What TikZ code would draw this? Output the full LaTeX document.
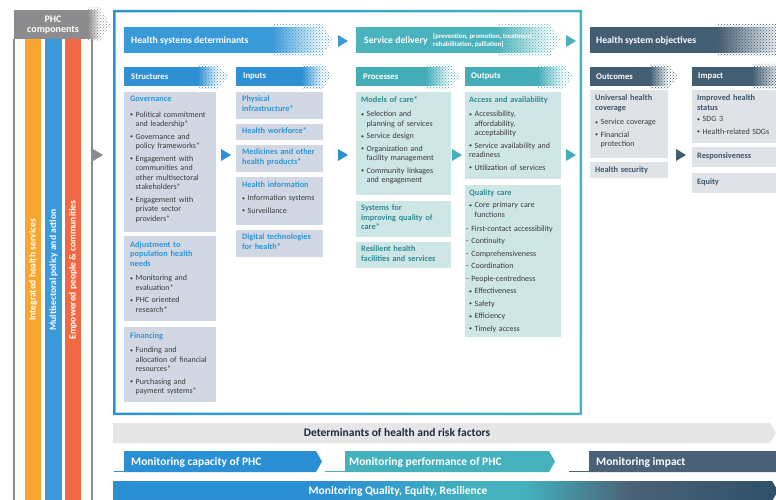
\documentclass[tikz,border=0pt]{standalone}
\usepackage{fontspec}
\setmainfont{Carlito}
\usetikzlibrary{patterns}
\usetikzlibrary{fadings}

\definecolor{phcgray}{HTML}{8C8C8F}
\definecolor{phcorange}{HTML}{F8A631}
\definecolor{phcblue}{HTML}{3A9AD8}
\definecolor{phcred}{HTML}{EF6A43}
\definecolor{hsdblue}{HTML}{3A9AD8}
\definecolor{structblue}{HTML}{2E90D2}
\definecolor{sdteal}{HTML}{4BB3BD}
\definecolor{procteal}{HTML}{44AEB8}
\definecolor{hsoslate}{HTML}{435D72}
\definecolor{frameblue}{HTML}{2B93D5}
\definecolor{frameteal}{HTML}{48B3BE}
\definecolor{structfill}{HTML}{D1D8E4}
\definecolor{procfill}{HTML}{CFE6E6}
\definecolor{outfill}{HTML}{DFE2E6}
\definecolor{structhead}{HTML}{2F96D6}
\definecolor{prochead}{HTML}{2E8C93}
\definecolor{outhead}{HTML}{3D566B}
\definecolor{bodytxt}{HTML}{3A3A3A}
\definecolor{detgray}{HTML}{E6E6E6}
\definecolor{dettxt}{HTML}{1F2B38}
\definecolor{monblue}{HTML}{2A8FD3}
\definecolor{monteal}{HTML}{44B1BC}
\definecolor{monslate}{HTML}{4A6177}
\definecolor{qerdark}{HTML}{2E5169}

\pgfdeclarehorizontalshading{qershade}{100bp}{color(0bp)=(monblue); color(41bp)=(monblue); color(52bp)=(monteal); color(56bp)=(monteal); color(64bp)=(monslate); color(75bp)=(qerdark); color(100bp)=(qerdark)}

\newcommand{\bul}{\makebox[5.5pt][l]{\raisebox{.4pt}{\fontsize{6}{6}\selectfont\textbullet}}}
\newcommand{\ind}{\hspace*{5.5pt}}
\newcommand{\hd}[2]{{\color{#1}\bfseries\fontsize{8.3}{9.8}\selectfont #2}}

\begin{document}
\begin{tikzpicture}[x=1pt,y=-1pt,
  boxtxt/.style={anchor=north west,inner sep=0pt,text width=100pt,align=left,text=bodytxt,font=\fontsize{8}{9.5}\selectfont},
  bantxt/.style={anchor=west,inner sep=0pt,text=white,font=\bfseries\fontsize{9.7}{11}\selectfont},
  subtxt/.style={anchor=west,inner sep=0pt,text=white,font=\bfseries\fontsize{8.7}{10}\selectfont},
  bartxt/.style={rotate=90,inner sep=0pt,text=white,font=\bfseries\fontsize{9.5}{11}\selectfont},
  bigtxt/.style={inner sep=0pt,font=\bfseries\fontsize{11.5}{13}\selectfont}]
  \useasboundingbox (0,0) rectangle (776,500);
  \fill[white] (0,0) rectangle (776,500);

  % PHC components
  \fill[phcorange] (25,39) rectangle (41,500);
  \fill[phcblue] (45,39) rectangle (62,500);
  \fill[phcred] (65,39) rectangle (81,500);
  \draw[phcgray, line width=2pt] (14,39) -- (14,500);
  \draw[phcgray, line width=2pt] (92,39) -- (92,500);

  % banners
  \foreach \xa/\xf/\xb/\ya/\yb/\col in {14/88/110/10/39/phcgray, 124/272/332/27/53/hsdblue,
      356/498/560/27/53/sdteal, 590/718/790/27/53/hsoslate, 124/198/228/67/86/structblue,
      236/302/332/67/86/structblue, 356/426/460/67/86/procteal, 465/538/573/67/86/procteal,
      590/650/678/67/86/hsoslate, 692/752/790/67/86/hsoslate}{
    \fill[pattern=crosshatch dots, pattern color=\col] (\xf,\ya-3) -- (\xb-10,\ya-3) -- (\xb,{(\ya+\yb)/2}) -- (\xb-10,\yb+3) -- (\xf,\yb+3) -- cycle;
    \fill[\col] (\xa,\ya) rectangle (\xf,\yb);
    \fill[\col, path fading=east] (\xf-.3,\ya) rectangle (\xb-10,\yb);
  }

  \node[inner sep=0pt, align=center, text=white, font=\bfseries\fontsize{10}{10.5}\selectfont] (phc) at (53,25) {PHC\\components};
  \node[bartxt] (igs) at (33,270) {Integrated health services};
  \node[bartxt] (mpa) at (53.5,270) {Multisectoral policy and action};
  \node[bartxt] (epc) at (73,270) {Empowered people \& communities};

  % frame round health systems and service delivery
  \shade[left color=frameblue, right color=frameteal, even odd rule] (113,10) rectangle (582,415) (115.5,12.5) rectangle (579.5,412.5);

  % arrow heads
  \foreach \tx/\ty/\col in {93/155/phcgray, 221/155/structblue, 338/155/structblue, 338/41/hsdblue,
      452/155/procteal, 566/155/procteal, 566/41/sdteal, 676/155/hsoslate}
    \fill[\col] (\tx,\ty-6) -- (\tx+10,\ty) -- (\tx,\ty+6) -- cycle;

  \node[bantxt] (hsd) at (131,41) {Health systems determinants};
  \node[bantxt] (sdel) at (364,41) {Service delivery};
  \node[anchor=west, inner sep=0pt, align=left, text=white, font=\bfseries\fontsize{6.8}{8}\selectfont] (sdbr) at (433,41) {[prevention, promotion, treatment,\\ rehabilitation, palliation]};
  \node[bantxt] (hso) at (596,41) {Health system objectives};
  \node[subtxt] (str) at (131,76.5) {Structures};
  \node[subtxt] (inp) at (243,76.5) {Inputs};
  \node[subtxt] (pro) at (363,76.5) {Processes};
  \node[subtxt] (outp) at (471,76.5) {Outputs};
  \node[subtxt] (outc) at (596,76.5) {Outcomes};
  \node[subtxt] (imp) at (698,76.5) {Impact};

  % structures
  \fill[structfill] (124,92) rectangle (216,232);
  \fill[structfill] (124,236) rectangle (216,321);
  \fill[structfill] (124,327) rectangle (216,402);
  \node[boxtxt] (gov) at (130,96) {\hd{structhead}{Governance}\\[6pt]
    \bul Political commitment\\ \ind and leadership*\\[3pt]
    \bul Governance and\\ \ind policy frameworks*\\[3pt]
    \bul Engagement with\\ \ind communities and\\ \ind other multisectoral\\ \ind stakeholders*\\[3pt]
    \bul Engagement with\\ \ind private sector\\ \ind providers*};
  \node[boxtxt] (adj) at (130,241) {\hd{structhead}{Adjustment to\\ population health\\ needs}\\[5pt]
    \bul Monitoring and\\ \ind evaluation*\\[3pt]
    \bul PHC oriented\\ \ind research*};
  \node[boxtxt] (fin) at (130,332) {\hd{structhead}{Financing}\\[5pt]
    \bul Funding and\\ \ind allocation of financial\\ \ind resources*\\[3pt]
    \bul Purchasing and\\ \ind payment systems*};

  % inputs
  \fill[structfill] (236,92) rectangle (323,119);
  \fill[structfill] (236,124) rectangle (323,140);
  \fill[structfill] (236,145) rectangle (323,172);
  \fill[structfill] (236,177) rectangle (323,225);
  \fill[structfill] (236,230) rectangle (323,257);
  \node[boxtxt] (phys) at (242,95.5) {\hd{structhead}{Physical\\ infrastructure*}};
  \node[boxtxt] (work) at (242,127.5) {\hd{structhead}{Health workforce*}};
  \node[boxtxt] (med) at (242,148.5) {\hd{structhead}{Medicines and other\\ health products*}};
  \node[boxtxt] (info) at (242,181) {\hd{structhead}{Health information}\\[4pt]
    \bul Information systems\\[3pt]
    \bul Surveillance};
  \node[boxtxt] (digi) at (242,233.5) {\hd{structhead}{Digital technologies\\ for health*}};

  % processes
  \fill[procfill] (356,92) rectangle (451,195);
  \fill[procfill] (356,201) rectangle (451,237);
  \fill[procfill] (356,242) rectangle (451,268);
  \node[boxtxt] (moc) at (361,96) {\hd{prochead}{Models of care*}\\[5pt]
    \bul Selection and\\ \ind planning of services\\[3pt]
    \bul Service design\\[3pt]
    \bul Organization and\\ \ind facility management\\[3pt]
    \bul Community linkages\\ \ind and engagement};
  \node[boxtxt] (siq) at (361,204.5) {\hd{prochead}{Systems for\\ improving quality of\\ care*}};
  \node[boxtxt] (res) at (361,245.5) {\hd{prochead}{Resilient health\\ facilities and services}};

  % outputs
  \fill[procfill] (465,92) rectangle (561,179);
  \fill[procfill] (465,185) rectangle (561,337);
  \node[boxtxt] (acc) at (469,96) {\hd{prochead}{Access and availability}\\[5pt]
    \bul Accessibility,\\ \ind affordability,\\ \ind acceptability\\[3pt]
    \bul Service availability and\\ readiness\\[3pt]
    \bul Utilization of services};
  \node[boxtxt] (qual) at (469,189.5) {\hd{prochead}{Quality care}\\[2.5pt]
    \bul Core primary care\\ \ind functions\\[4.5pt]
    \hspace*{-3pt}- First-contact accessibility\\[3pt]
    \hspace*{-3pt}- Continuity\\[3pt]
    \hspace*{-3pt}- Comprehensiveness\\[3pt]
    \hspace*{-3pt}- Coordination\\[3pt]
    \hspace*{-3pt}- People-centredness\\[3pt]
    \bul Effectiveness\\[3pt]
    \bul Safety\\[3pt]
    \bul Efficiency\\[3pt]
    \bul Timely access};

  % outcomes and impact
  \fill[outfill] (590,90) rectangle (668,158);
  \fill[outfill] (590,162) rectangle (668,178);
  \fill[outfill] (692,90) rectangle (776,143);
  \fill[outfill] (692,147) rectangle (776,167);
  \fill[outfill] (692,173) rectangle (776,193);
  \node[boxtxt] (uhc) at (595,94.5) {\hd{outhead}{Universal health\\ coverage}\\[5pt]
    \bul Service coverage\\[3pt]
    \bul Financial\\ \ind protection};
  \node[boxtxt] (hsec) at (595,166) {\hd{outhead}{Health security}};
  \node[boxtxt] (ihs) at (697,94.5) {\hd{outhead}{Improved health\\ status}\\[2pt]
    \bul SDG 3\\[3pt]
    \bul Health-related SDGs};
  \node[boxtxt] (resp) at (697,152) {\hd{outhead}{Responsiveness}};
  \node[boxtxt] (equ) at (697,178) {\hd{outhead}{Equity}};

  % monitoring bars
  \fill[detgray] (113,423) -- (770,423) -- (776,433) -- (770,443) -- (113,443) -- cycle;
  \node[bigtxt, text=dettxt] (det) at (397,433) {Determinants of health and risk factors};
  \foreach \xa/\xb/\xc/\col in {114/124/322/monblue, 325/345/555/monteal, 569/589/782/monslate}{
    \fill[\col] (\xb,451) -- (\xc-6,451) -- (\xc,461.5) -- (\xc-6,472) -- (\xb,472) -- cycle;
    \draw[\col, line width=1pt] (\xa,471.5) -- (\xb,471.5);
  }
  \node[bigtxt, anchor=west, text=white] (mcap) at (131,462) {Monitoring capacity of PHC};
  \node[bigtxt, anchor=west, text=white] (mperf) at (349,462) {Monitoring performance of PHC};
  \node[bigtxt, anchor=west, text=white] (mimp) at (596,462) {Monitoring impact};
  \shade[shading=qershade] (113,481) -- (772,481) -- (778,491) -- (772,501) -- (113,501) -- cycle;
  \node[bigtxt, text=white] (mqer) at (398,491) {Monitoring Quality, Equity, Resilience};
\end{tikzpicture}
\end{document}
